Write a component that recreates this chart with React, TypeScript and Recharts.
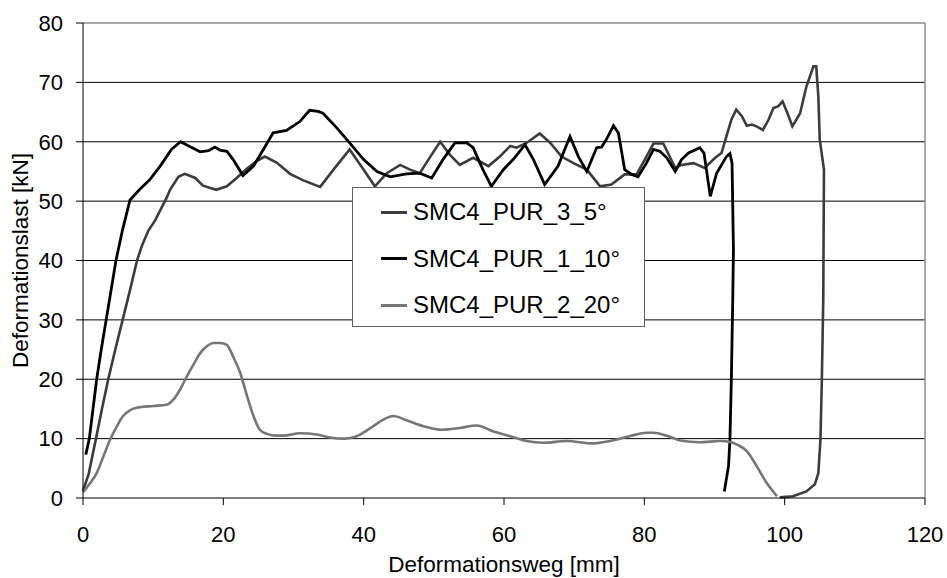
import React from 'react';
import { LineChart, Line, XAxis, YAxis, CartesianGrid, Legend, ReferenceLine, Label } from 'recharts';

// SMC4_PUR_3_5° (dark grey)
const x5 = [0, 0.8, 1.85, 2.7, 3.6, 4.6, 5.65, 6.7, 7.7, 8.4, 9.3, 10.3, 11.2, 11.9, 12.4, 13.6, 14.5, 16, 17.1, 19, 20.5, 21.9, 23.3, 24.7, 25.9, 27.6, 29.5, 31.4, 33.8, 35.7, 38, 40, 41.6, 43.3, 45.2, 46.6, 48, 49.5, 50.9, 52.3, 53.7, 55.6, 57.8, 59.4, 60.9, 61.8, 63.2, 65.1, 66.6, 68.2, 69.9, 71.8, 73.7, 75.3, 77.2, 78.9, 80.3, 81.3, 82.7, 84.4, 85.3, 87, 88.6, 90.1, 91, 91.7, 92.4, 93.1, 93.9, 94.6, 95.3, 96, 96.9, 97.7, 98.4, 99.1, 99.7, 100.4, 101.1, 102.2, 103.1, 104.1, 104.5, 104.8, 105, 105.6, 105.5, 105.3, 105.1, 104.8, 104.3, 103.1, 101.2, 99.3];
const y5 = [1.2, 4, 10, 15, 20, 25, 30, 35, 40, 42.5, 45, 46.8, 48.9, 50.5, 51.9, 54.1, 54.6, 53.9, 52.6, 51.9, 52.5, 53.9, 55.4, 56.7, 57.5, 56.5, 54.6, 53.5, 52.4, 55.3, 58.7, 55.3, 52.5, 54.7, 56.1, 55.3, 54.7, 57.5, 60, 57.8, 56.1, 57.3, 55.9, 57.5, 59.3, 59, 59.8, 61.4, 59.8, 57.5, 56.4, 55.3, 52.5, 52.8, 54.5, 54.5, 57.5, 59.7, 59.7, 55.6, 56.1, 56.4, 55.6, 57.3, 58.1, 60.9, 63.7, 65.4, 64.3, 62.7, 62.9, 62.6, 62, 63.7, 65.7, 66, 66.8, 64.8, 62.6, 64.8, 69.3, 72.7, 72.7, 67.6, 60.4, 55.3, 33.4, 20, 9.8, 4.2, 2.3, 1.1, 0.3, 0.1];

// SMC4_PUR_1_10° (black)
const x10 = [0.4, 0.9, 1.95, 2.6, 3.3, 4, 4.7, 5.6, 6.7, 8.1, 9.5, 11, 12.6, 13.9, 15.2, 16.7, 17.9, 18.8, 19.5, 20.5, 21.4, 22.8, 24.3, 25.7, 27.1, 29, 30.9, 32.3, 33.5, 34.2, 36.2, 38, 40, 41.9, 43.8, 46.1, 48, 49.7, 51.3, 53, 54.7, 55.6, 57, 58.2, 59.9, 61.3, 63, 64.2, 65.8, 67.7, 69.4, 70.6, 71.8, 73.2, 73.9, 74.6, 75.6, 76.3, 77.2, 78.2, 79.1, 80.3, 81.3, 82.2, 83.2, 84.4, 85.3, 86.3, 87.9, 88.5, 89.4, 90.3, 91, 91.7, 92.2, 92.5, 92.7, 92.6, 92.4, 92.2, 92, 91.4];
const y10 = [7.3, 10, 20, 25, 30, 35, 40, 45, 50.2, 52, 53.6, 55.9, 58.7, 60, 59.2, 58.3, 58.5, 59.1, 58.6, 58.4, 57, 54.3, 55.9, 58.7, 61.5, 61.9, 63.4, 65.3, 65.1, 64.8, 62.3, 59.8, 57, 55, 54.1, 54.6, 54.7, 53.9, 57, 59.8, 59.8, 59, 55.3, 52.5, 55.3, 57, 59.5, 57, 52.8, 55.9, 60.9, 57.5, 55, 59, 59.1, 60.4, 62.7, 61.5, 55.3, 54.5, 54.1, 56.4, 58.7, 58.4, 57.3, 55, 57, 58.1, 59, 58.1, 50.8, 54.7, 56.1, 57.5, 58, 56.4, 41.8, 33.4, 19.9, 9.8, 5.4, 1.1];

// SMC4_PUR_2_20° (grey)
const x20 = [0, 1, 1.95, 3, 3.85, 4.8, 5.7, 6.6, 7.6, 10, 11.9, 12.9, 13.9, 14.8, 15.8, 16.7, 17.6, 18.6, 19.6, 20.5, 21.4, 22.4, 23.3, 24.3, 25.2, 26.2, 27.6, 28.5, 30.9, 33.3, 35.2, 37.3, 39, 41, 42.8, 44.2, 46.1, 48.5, 51.3, 53.7, 56.1, 58.5, 60.9, 63.2, 65.6, 68.9, 72.7, 75.1, 77.9, 80.3, 81.3, 83.2, 85.1, 87.9, 90.8, 92.4, 93.2, 94.6, 96, 97.4, 98.9];
const y20 = [1, 2.5, 4.2, 7.3, 9.8, 12, 13.8, 14.7, 15.2, 15.5, 15.7, 16.6, 18.4, 20.5, 22.6, 24.4, 25.5, 26.1, 26.1, 25.8, 23.8, 21.1, 17.5, 13.8, 11.5, 10.8, 10.5, 10.5, 10.9, 10.7, 10.2, 10, 10.4, 11.8, 13.2, 13.8, 13.1, 12.1, 11.5, 11.8, 12.2, 11.2, 10.4, 9.6, 9.3, 9.6, 9.2, 9.6, 10.4, 11, 11, 10.5, 9.7, 9.4, 9.6, 9.4, 9, 7.9, 5.4, 2.6, 0.3];

const seriesNames = ['SMC4_PUR_3_5°', 'SMC4_PUR_1_10°', 'SMC4_PUR_2_20°'];
const xTicks = [0, 20, 40, 60, 80, 100, 120];
const yTicks = [0, 10, 20, 30, 40, 50, 60, 70, 80];
const gridLines = [10, 20, 30, 40, 50, 60, 70];

const toPoints = (xs: number[], ys: number[]) => xs.map((x, i) => ({ x, y: ys[i] }));

const d5 = toPoints(x5, y5);
const d10 = toPoints(x10, y10);
const d20 = toPoints(x20, y20);

const font = '"Liberation Sans", Arial, sans-serif';

const renderLegend = (props: any) => {
  // keep the series order, not the alphabetical one
  const items = [...props.payload].sort((a: any, b: any) => seriesNames.indexOf(a.value) - seriesNames.indexOf(b.value));
  return (
    <div style={{ width: 293, height: 140, boxSizing: 'border-box', border: '1px solid #606060', background: '#fff', paddingTop: 1, fontFamily: font, fontSize: 24, color: '#000' }}>
      {items.map((entry: any) => (
        <div key={entry.value} style={{ display: 'flex', alignItems: 'center', height: 46.5 }}>
          <span style={{ display: 'inline-block', width: 26, borderTop: `3px solid ${entry.color}`, marginLeft: 28, marginRight: 6 }} />
          <span>{entry.value}</span>
        </div>
      ))}
    </div>
  );
};

const App: React.FC = () => {
  return (
    <div style={{ width: 947, height: 578, background: '#fff' }}>
      <style>{'body{margin:0}'}</style>
      <LineChart width={947} height={578} margin={{ top: 23, right: 22, bottom: 0, left: 0 }} style={{ fontFamily: font }}>
        <CartesianGrid vertical={false} horizontalValues={gridLines} stroke="#000" strokeWidth={1} />
        <ReferenceLine y={80} stroke="#8c8c8c" strokeWidth={1.5} />
        <ReferenceLine x={120} stroke="#8c8c8c" strokeWidth={1.5} />
        <XAxis
          type="number"
          dataKey="x"
          domain={[0, 120]}
          ticks={xTicks}
          height={80}
          tickSize={7}
          tickMargin={21}
          stroke="#000"
          tick={{ fill: '#000', fontSize: 22 }}
        >
          <Label value="Deformationsweg [mm]" position="insideBottom" offset={6} style={{ fill: '#000', fontSize: 22.5 }} />
        </XAxis>
        <YAxis
          type="number"
          dataKey="y"
          domain={[0, 80]}
          ticks={yTicks}
          width={83}
          tickSize={7}
          tickMargin={13}
          stroke="#000"
          tick={{ fill: '#000', fontSize: 22 }}
        >
          <Label value="Deformationslast [kN]" angle={-90} position="insideLeft" offset={20} style={{ fill: '#000', fontSize: 22.5, textAnchor: 'middle' }} />
        </YAxis>
        <Legend layout="vertical" align="center" verticalAlign="middle" content={renderLegend} wrapperStyle={{ left: 352, top: 187, width: 293 }} />
        <Line data={d5} dataKey="y" name={seriesNames[0]} type="linear" stroke="#3c3c3c" strokeWidth={2.6} dot={false} isAnimationActive={false} />
        <Line data={d10} dataKey="y" name={seriesNames[1]} type="linear" stroke="#000000" strokeWidth={2.8} dot={false} isAnimationActive={false} />
        <Line data={d20} dataKey="y" name={seriesNames[2]} type="monotone" stroke="#767676" strokeWidth={2.6} dot={false} isAnimationActive={false} />
      </LineChart>
    </div>
  );
};

export default App;
